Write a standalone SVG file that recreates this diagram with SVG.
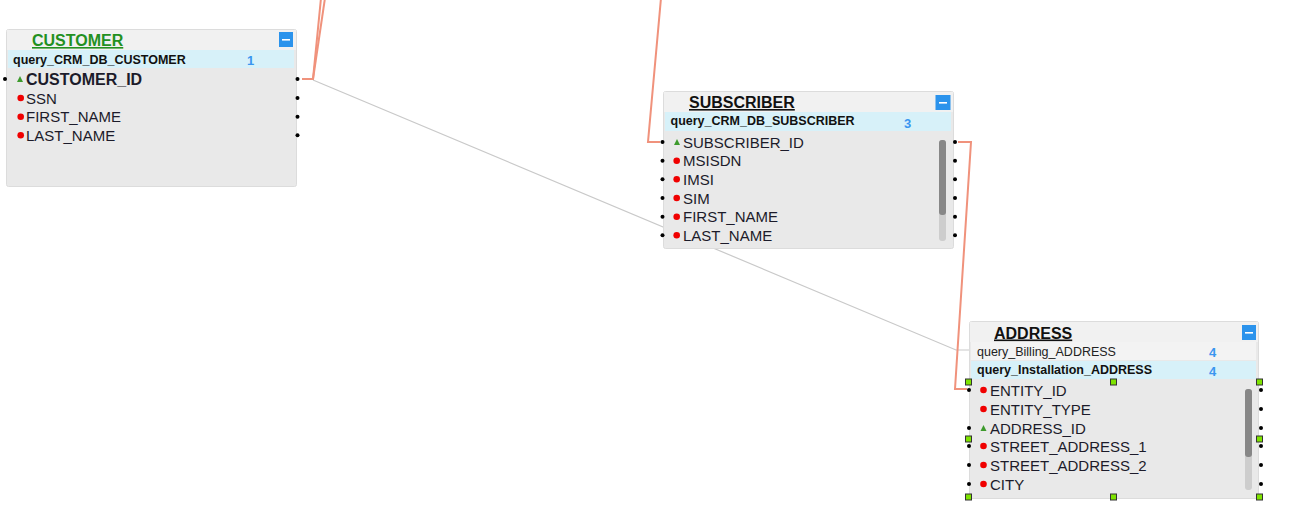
<svg xmlns="http://www.w3.org/2000/svg" width="1300" height="519" viewBox="0 0 1300 519">
<defs>
<style>
.frame{fill:#e9e9e9;stroke:#dcdcdc;stroke-width:1}
.hdr{fill:#f1f1f1}
.qsel{fill:#d7f1f9}
.qrow{fill:#f3f3f3}
.title{font-family:"Liberation Sans",Arial,sans-serif;font-size:16px;font-weight:bold;text-decoration:underline;fill:#111}
.qtxt{font-family:"Liberation Sans",Arial,sans-serif;font-size:12.5px;font-weight:bold;fill:#111}
.qtxtn{font-family:"Liberation Sans",Arial,sans-serif;font-size:12.5px;fill:#222}
.num{font-family:"Liberation Sans",Arial,sans-serif;font-size:13px;font-weight:bold;fill:#3a96f0}
.fld{font-family:"Liberation Sans",Arial,sans-serif;font-size:15px;fill:#1c1b2a}
.fldb{font-family:"Liberation Sans",Arial,sans-serif;font-size:16px;font-weight:bold;fill:#1c1b2a}
.rd{fill:#f00000}
.key{fill:#3d9a2c}
.port{fill:#000}
.btn{fill:#2b93ec}
.track{fill:#cdcdcd}
.thumb{fill:#878787}
.hdl{fill:#7ee300;stroke:#333;stroke-width:1}
.rel{fill:none;stroke:#f0927c;stroke-width:2}
.lnk{fill:none;stroke:#c9c9c9;stroke-width:1.2}
</style>
</defs>
<rect width="1300" height="519" fill="#ffffff"/>

<g id="connectors">
<polyline class="lnk" points="313,80 956,350 970,350"/>
<polyline class="rel" points="302,79 313,79 321,-2"/>
<polyline class="rel" points="313,79 325,-2"/>
<polyline class="rel" points="661,-2 648,142 660,142"/>
<polyline class="rel" points="958,142 971,142 955,389 967,389"/>
</g>

<g id="node-customer">
<rect class="frame" x="6.5" y="29.5" width="290" height="157" rx="2"/>
<rect class="hdr" x="7" y="30" width="289" height="20"/>
<rect class="qsel" x="8" y="50" width="286" height="18"/>
<text x="32" y="46" class="title" style="fill:#23901f">CUSTOMER</text>
<rect class="btn" x="279" y="32" width="14" height="15"/>
<rect x="282" y="39" width="8" height="1.6" fill="#fff"/>
<text x="13" y="63.5" class="qtxt">query_CRM_DB_CUSTOMER</text>
<text x="247" y="64.5" class="num">1</text>
<polygon class="key" points="17,82 23,82 20,76"/>
<text x="26" y="84.5" class="fldb">CUSTOMER_ID</text>
<circle class="rd" cx="20.7" cy="98" r="3.3"/>
<text x="26" y="103.5" class="fld">SSN</text>
<circle class="rd" cx="20.7" cy="116.7" r="3.3"/>
<text x="26" y="122" class="fld">FIRST_NAME</text>
<circle class="rd" cx="20.7" cy="135.3" r="3.3"/>
<text x="26" y="140.7" class="fld">LAST_NAME</text>
<circle class="port" cx="5" cy="79" r="2"/>
<circle class="port" cx="297.5" cy="79" r="2"/>
<circle class="port" cx="297.5" cy="98" r="2"/>
<circle class="port" cx="297.5" cy="116.7" r="2"/>
<circle class="port" cx="297.5" cy="135.3" r="2"/>
</g>

<g id="node-subscriber">
<rect class="frame" x="663.5" y="91.5" width="290" height="157" rx="2"/>
<rect class="hdr" x="664" y="92" width="289" height="20"/>
<rect class="qsel" x="665" y="112" width="286" height="19"/>
<text x="689" y="108" class="title">SUBSCRIBER</text>
<rect class="btn" x="935.5" y="95" width="15" height="15"/>
<rect x="939" y="102" width="8" height="1.6" fill="#fff"/>
<text x="670.5" y="124.5" class="qtxt">query_CRM_DB_SUBSCRIBER</text>
<text x="904" y="127.5" class="num">3</text>
<rect class="track" x="939" y="140" width="7" height="101" rx="3"/>
<rect class="thumb" x="939" y="140" width="7" height="75" rx="3"/>
<polygon class="key" points="674,145 680,145 677,139"/>
<text x="683" y="147.5" class="fld">SUBSCRIBER_ID</text>
<circle class="rd" cx="676.7" cy="160.7" r="3.3"/>
<text x="683" y="166.2" class="fld">MSISDN</text>
<circle class="rd" cx="676.7" cy="179.3" r="3.3"/>
<text x="683" y="184.8" class="fld">IMSI</text>
<circle class="rd" cx="676.7" cy="198" r="3.3"/>
<text x="683" y="203.5" class="fld">SIM</text>
<circle class="rd" cx="676.7" cy="216.7" r="3.3"/>
<text x="683" y="222.2" class="fld">FIRST_NAME</text>
<circle class="rd" cx="676.7" cy="235.3" r="3.3"/>
<text x="683" y="240.8" class="fld">LAST_NAME</text>
<circle class="port" cx="662.5" cy="142" r="2"/>
<circle class="port" cx="662.5" cy="160.7" r="2"/>
<circle class="port" cx="662.5" cy="179.3" r="2"/>
<circle class="port" cx="662.5" cy="198" r="2"/>
<circle class="port" cx="662.5" cy="216.7" r="2"/>
<circle class="port" cx="662.5" cy="235.3" r="2"/>
<circle class="port" cx="955" cy="142" r="2"/>
<circle class="port" cx="955" cy="160.7" r="2"/>
<circle class="port" cx="955" cy="179.3" r="2"/>
<circle class="port" cx="955" cy="198" r="2"/>
<circle class="port" cx="955" cy="216.7" r="2"/>
<circle class="port" cx="955" cy="235.3" r="2"/>
</g>

<g id="node-address">
<rect class="frame" x="969.5" y="321.5" width="289" height="177" rx="2"/>
<rect class="hdr" x="970" y="322" width="288" height="20"/>
<rect class="qrow" x="971" y="342" width="285" height="18"/>
<rect class="qsel" x="971" y="361" width="285" height="18"/>
<text x="994" y="338.5" class="title">ADDRESS</text>
<rect class="btn" x="1242" y="325" width="14" height="15"/>
<rect x="1245" y="332" width="8" height="1.6" fill="#fff"/>
<text x="977" y="355.5" class="qtxtn">query_Billing_ADDRESS</text>
<text x="1209" y="357" class="num">4</text>
<text x="977" y="374" class="qtxt">query_Installation_ADDRESS</text>
<text x="1209" y="376" class="num">4</text>
<rect class="track" x="1245" y="389" width="7" height="101" rx="3"/>
<rect class="thumb" x="1245" y="389" width="7" height="68" rx="3"/>
<circle class="rd" cx="983.5" cy="390" r="3.3"/>
<text x="990" y="395.5" class="fld">ENTITY_ID</text>
<circle class="rd" cx="983.5" cy="409" r="3.3"/>
<text x="990" y="414.5" class="fld">ENTITY_TYPE</text>
<polygon class="key" points="980.5,431 986.5,431 983.5,425"/>
<text x="990" y="433.5" class="fld">ADDRESS_ID</text>
<circle class="rd" cx="983.5" cy="446" r="3.3"/>
<text x="990" y="451.5" class="fld">STREET_ADDRESS_1</text>
<circle class="rd" cx="983.5" cy="465" r="3.3"/>
<text x="990" y="470.5" class="fld">STREET_ADDRESS_2</text>
<circle class="rd" cx="983.5" cy="484" r="3.3"/>
<text x="990" y="489.5" class="fld">CITY</text>
<circle class="port" cx="969" cy="390" r="2"/>
<circle class="port" cx="969" cy="428" r="2"/>
<circle class="port" cx="969" cy="446" r="2"/>
<circle class="port" cx="969" cy="465" r="2"/>
<circle class="port" cx="969" cy="484" r="2"/>
<circle class="port" cx="1261" cy="390" r="2"/>
<circle class="port" cx="1261" cy="409" r="2"/>
<circle class="port" cx="1261" cy="428" r="2"/>
<circle class="port" cx="1261" cy="446" r="2"/>
<circle class="port" cx="1261" cy="465" r="2"/>
<circle class="port" cx="1261" cy="484" r="2"/>
<rect class="hdl" x="965.5" y="379" width="6" height="6"/>
<rect class="hdl" x="1110.5" y="379" width="6" height="6"/>
<rect class="hdl" x="1256.5" y="379" width="6" height="6"/>
<rect class="hdl" x="965.5" y="436" width="6" height="6"/>
<rect class="hdl" x="1256.5" y="436" width="6" height="6"/>
<rect class="hdl" x="965.5" y="494" width="6" height="6"/>
<rect class="hdl" x="1110.5" y="494" width="6" height="6"/>
<rect class="hdl" x="1256.5" y="494" width="6" height="6"/>
</g>
</svg>
